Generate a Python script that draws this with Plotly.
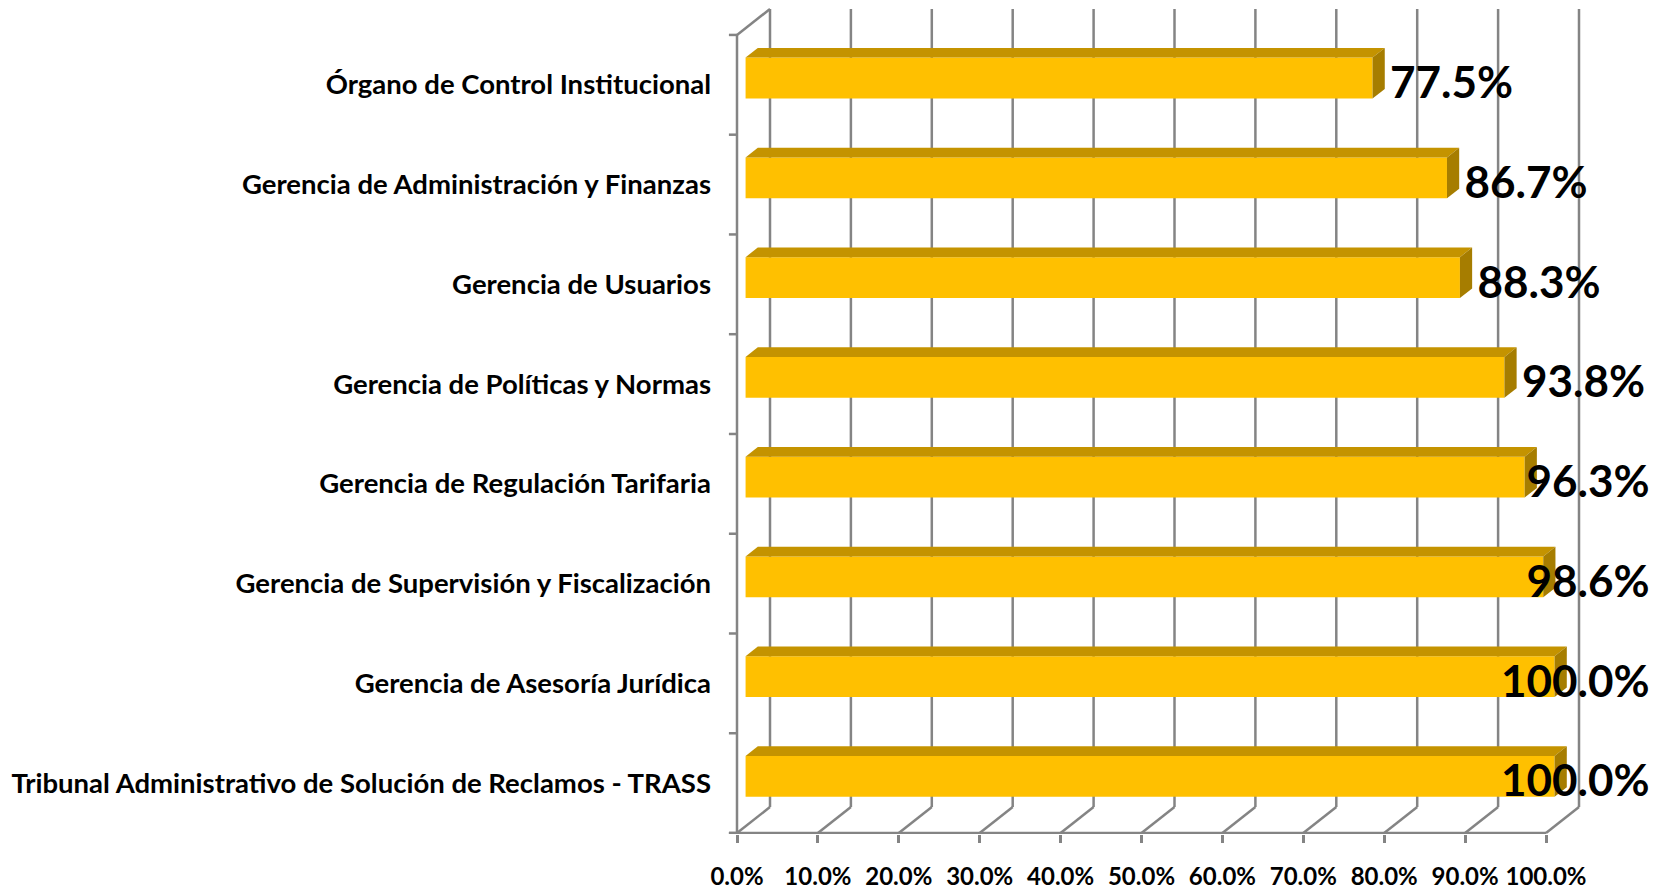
import plotly.graph_objects as go

# ---------------- data ----------------
categories = [
    "Tribunal Administrativo de Solución de Reclamos - TRASS",
    "Gerencia de Asesoría Jurídica",
    "Gerencia de Supervisión y Fiscalización",
    "Gerencia de Regulación Tarifaria",
    "Gerencia de Políticas y Normas",
    "Gerencia de Usuarios",
    "Gerencia de Administración y Finanzas",
    "Órgano de Control Institucional",
]
values = [100.0, 100.0, 98.6, 96.3, 93.8, 88.3, 86.7, 77.5]
x_ticks = [0, 10, 20, 30, 40, 50, 60, 70, 80, 90, 100]
x_tick_labels = [f"{t:.1f}%" for t in x_ticks]

# ---------------- style / geometry ----------------
OFF = 8                  # page body margin
W, H = 1664 - OFF, 890 - OFF
PX_PER_X = 8.09          # pixels per percent unit
PX_PER_Y = 100.0         # pixels per category row
X0_PX = 737 - OFF        # pixel of 0% on the front plane
Y0_PX = 785 - OFF        # pixel of row 0 centre on the front plane
PLOT_L, PLOT_R, PLOT_T, PLOT_B = 720 - OFF, W, 0, 836 - OFF

x_range = [(PLOT_L - X0_PX) / PX_PER_X, (PLOT_R - X0_PX) / PX_PER_X]
y_range = [(Y0_PX - PLOT_B) / PX_PER_Y, (Y0_PX - PLOT_T) / PX_PER_Y]

DXU = 33 / PX_PER_X      # depth offset in x units (back wall)
DYU = 26 / PX_PER_Y      # depth offset in y units
D_FRONT, D_BACK = 0.26, 0.63
BAR_H = 0.41

GRID = "#848484"
GW = 2.5
FRONT = "#FFC000"
TOP = "#C49300"
SIDE = "#A67D00"
FONT = "Lato"

n = len(categories)
y_lo, y_hi = -0.5, n - 0.5

fig = go.Figure()

# ---------------- walls / gridlines ----------------
shapes = []
for t in x_ticks:
    shapes.append(dict(type="line", xref="x", yref="y", layer="below",
                       x0=t + DXU, x1=t + DXU, y0=y_lo + DYU, y1=y_hi + DYU,
                       line=dict(color=GRID, width=GW)))
    shapes.append(dict(type="line", xref="x", yref="y", layer="below",
                       x0=t, x1=t + DXU, y0=y_lo, y1=y_lo + DYU,
                       line=dict(color=GRID, width=GW)))
shapes.append(dict(type="line", xref="x", yref="y", layer="below",
                   x0=-1.0, x1=x_ticks[-1], y0=y_lo, y1=y_lo,
                   line=dict(color=GRID, width=GW)))
shapes.append(dict(type="line", xref="x", yref="y", layer="below",
                   x0=0, x1=0, y0=y_lo, y1=y_hi,
                   line=dict(color=GRID, width=GW)))
shapes.append(dict(type="line", xref="x", yref="y", layer="below",
                   x0=0, x1=DXU, y0=y_hi, y1=y_hi + DYU,
                   line=dict(color=GRID, width=GW)))
for k in range(n + 1):
    yb = y_lo + k
    shapes.append(dict(type="line", xref="x", yref="y", layer="below",
                       x0=-1.0, x1=0, y0=yb, y1=yb,
                       line=dict(color=GRID, width=GW)))

# ---------------- bars ----------------
base = D_FRONT * DXU
yc = [i + D_FRONT * DYU for i in range(n)]
ddx = (D_BACK - D_FRONT) * DXU
ddy = (D_BACK - D_FRONT) * DYU

fig.add_trace(go.Bar(
    y=yc, x=values, base=base, orientation="h", width=BAR_H,
    marker=dict(color=FRONT, line=dict(width=0)),
    hoverinfo="skip", showlegend=False))

for i, v in enumerate(values):
    yt = yc[i] + BAR_H / 2
    yb = yc[i] - BAR_H / 2
    xe = base + v
    fig.add_trace(go.Scatter(
        x=[base, xe, xe + ddx, base + ddx, base],
        y=[yt, yt, yt + ddy, yt + ddy, yt],
        fill="toself", fillcolor=TOP, mode="lines", line=dict(width=0),
        hoverinfo="skip", showlegend=False))
    fig.add_trace(go.Scatter(
        x=[xe, xe, xe + ddx, xe + ddx, xe],
        y=[yb, yt, yt + ddy, yb + ddy, yb],
        fill="toself", fillcolor=SIDE, mode="lines", line=dict(width=0),
        hoverinfo="skip", showlegend=False))

# ---------------- data labels ----------------
LABEL_SIZE = 44
char_w = {".": 0.26, "%": 0.82}
def text_w_units(s):
    em = sum(char_w.get(c, 0.58) for c in s)
    return em * LABEL_SIZE / PX_PER_X

limit = (1650 - OFF - X0_PX) / PX_PER_X
gap = 17 / PX_PER_X
lab_x, lab_y, lab_t = [], [], []
for i, v in enumerate(values):
    s = f"{v:.1f}%"
    w = text_w_units(s)
    left = min(base + v + gap, limit - w)
    lab_x.append(left + w / 2)
    lab_y.append(yc[i] - 0.09)
    lab_t.append(s)

fig.add_trace(go.Scatter(
    x=lab_x, y=lab_y, text=lab_t, mode="text", textposition="middle center",
    textfont=dict(family=FONT, size=LABEL_SIZE, color="black", weight="bold"),
    hoverinfo="skip", showlegend=False, cliponaxis=False))

fig.update_layout(
    width=W, height=H,
    margin=dict(l=PLOT_L, r=W - PLOT_R, t=PLOT_T, b=H - PLOT_B),
    paper_bgcolor="white", plot_bgcolor="white",
    shapes=shapes,
    xaxis=dict(range=x_range, tickvals=x_ticks, ticktext=x_tick_labels,
               showgrid=False, zeroline=False, showline=False,
               ticks="outside", ticklen=8, tickwidth=GW, tickcolor=GRID,
               ticklabelstandoff=13,
               tickfont=dict(family=FONT, size=24, color="black", weight="bold")),
    yaxis=dict(range=y_range, tickvals=list(range(n)), ticktext=categories,
               showgrid=False, zeroline=False, showline=False, ticks="",
               ticklabelstandoff=8,
               tickfont=dict(family=FONT, size=27.5, color="black", weight="bold")),
)

fig.write_html("out.html")
